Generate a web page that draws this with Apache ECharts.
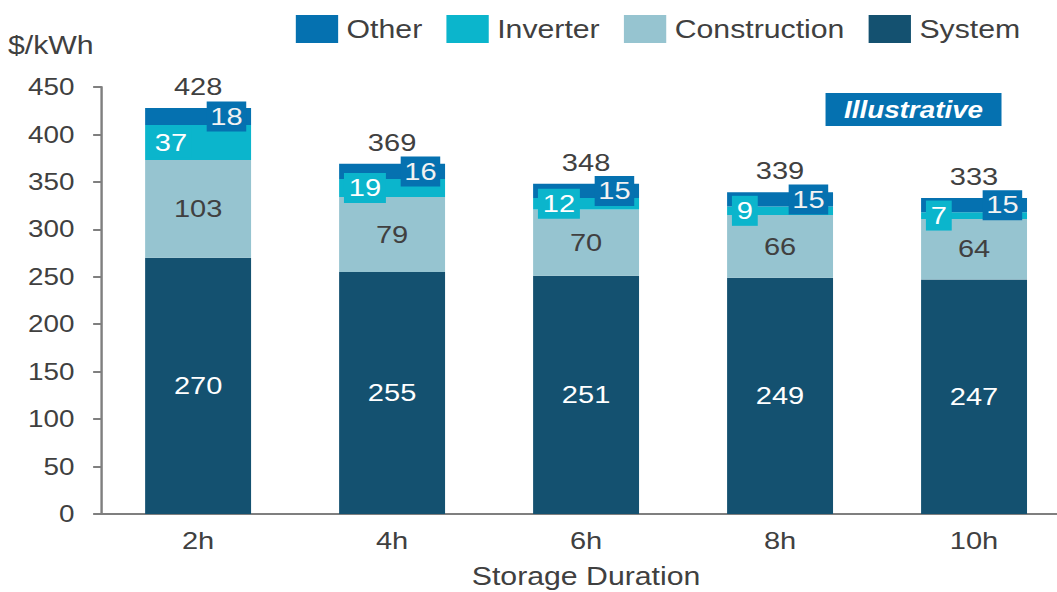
<!DOCTYPE html>
<html>
<head>
<meta charset="utf-8">
<script src="https://cdn.jsdelivr.net/npm/echarts@6/dist/echarts.min.js"></script>
<style>
  html, body { margin: 0; padding: 0; background: #fff; overflow: hidden; }
  #wrap { width: 1057px; height: 592px; overflow: hidden; position: relative; }
  /* chart is laid out narrower and widened horizontally */
  #chart { width: 874px; height: 592px; transform: scaleX(1.2094); transform-origin: 0 0; }
</style>
</head>
<body>
<div id="wrap"><div id="chart"></div></div>
<script>
// Storage cost breakdown by duration, $/kWh
const categories = ['2h', '4h', '6h', '8h', '10h'];
const systemCost = [270, 255, 251, 249, 247];
const constructionCost = [103, 79, 70, 66, 64];
const inverterCost = [37, 19, 12, 9, 7];
const otherCost = [18, 16, 15, 15, 15];
const yTicks = { min: 0, max: 450, interval: 50 };

const totals = categories.map((_, i) =>
  systemCost[i] + constructionCost[i] + inverterCost[i] + otherCost[i]);

const FONT = '"Liberation Sans", Arial, sans-serif';
const TEXT = '#404040';
const COLORS = {
  other: '#0571B0',
  inverter: '#0BB5CC',
  construction: '#96C4D0',
  system: '#145170'
};
const BAR_W = 87.6;

const chart = echarts.init(document.getElementById('chart'), null, { renderer: 'svg' });

chart.setOption({
  animation: false,
  textStyle: { fontFamily: FONT },
  legend: {
    data: ['Other', 'Inverter', 'Construction', 'System'],
    left: 244.6,
    top: 15,
    padding: 0,
    itemWidth: 35,
    itemHeight: 28,
    itemGap: 20,
    icon: 'rect',
    textStyle: { fontFamily: FONT, fontSize: 25, color: TEXT, padding: [0, 0, 0, 2] }
  },
  // plot area runs slightly past the right edge of the canvas
  grid: { left: 83.6, top: 87, width: 802, bottom: 78, containLabel: false, outerBoundsMode: 'none' },
  xAxis: {
    type: 'category',
    data: categories,
    axisLine: { lineStyle: { color: '#7f7f7f', width: 2 } },
    axisTick: { show: false },
    axisLabel: { fontFamily: FONT, fontSize: 24, color: TEXT, margin: 15 },
    name: 'Storage Duration',
    nameLocation: 'middle',
    nameGap: 50,
    nameTextStyle: { fontFamily: FONT, fontSize: 25, color: TEXT }
  },
  yAxis: {
    type: 'value',
    min: yTicks.min,
    max: yTicks.max,
    interval: yTicks.interval,
    splitLine: { show: false },
    axisLine: { show: true, lineStyle: { color: '#7f7f7f', width: 2 } },
    axisTick: { show: true, length: 6.6, lineStyle: { color: '#7f7f7f', width: 2 } },
    axisLabel: { fontFamily: FONT, fontSize: 23, color: TEXT, margin: 22 }
  },
  series: [
    {
      name: 'System', type: 'bar', stack: 'cost', barWidth: BAR_W,
      data: systemCost,
      itemStyle: { color: COLORS.system },
      label: { show: true, position: 'inside', fontFamily: FONT, fontSize: 24, color: '#ffffff' }
    },
    {
      name: 'Construction', type: 'bar', stack: 'cost', barWidth: BAR_W,
      data: constructionCost,
      itemStyle: { color: COLORS.construction },
      label: { show: true, position: 'inside', fontFamily: FONT, fontSize: 24, color: TEXT }
    },
    {
      name: 'Inverter', type: 'bar', stack: 'cost', barWidth: BAR_W,
      data: inverterCost,
      itemStyle: { color: COLORS.inverter },
      label: {
        show: true, position: 'insideLeft', distance: 4,
        fontFamily: FONT, fontSize: 24, color: '#ffffff',
        backgroundColor: COLORS.inverter, padding: [3, 4, 1, 4], lineHeight: 26
      }
    },
    {
      name: 'Other', type: 'bar', stack: 'cost', barWidth: BAR_W,
      data: otherCost,
      itemStyle: { color: COLORS.other },
      label: {
        show: true, position: 'insideRight', distance: 4,
        fontFamily: FONT, fontSize: 24, color: '#f2f2f2',
        backgroundColor: COLORS.other, padding: [3, 3, 1, 3], lineHeight: 26
      }
    },
    {
      // zero-height cap that carries the total above each stack
      name: 'Total', type: 'bar', stack: 'cost', barWidth: BAR_W,
      data: totals.map(() => 0),
      itemStyle: { color: 'transparent' },
      silent: true,
      label: {
        show: true, position: 'top', distance: 9,
        fontFamily: FONT, fontSize: 24, color: TEXT,
        formatter: p => String(totals[p.dataIndex])
      }
    }
  ],
  graphic: [
    {
      type: 'text', left: 6.6, top: 33,
      style: { text: '$/kWh', fontFamily: FONT, fontSize: 25, fill: TEXT }
    },
    {
      type: 'group', left: 682.6, top: 93,
      children: [
        { type: 'rect', shape: { x: 0, y: 0, width: 145.5, height: 33 }, style: { fill: COLORS.other } },
        {
          type: 'text', x: 72.75, y: 16.5,
          style: {
            text: 'Illustrative', fontFamily: FONT, fontSize: 23, fontWeight: 'bold',
            fontStyle: 'italic', fill: '#ffffff', align: 'center', verticalAlign: 'middle'
          }
        }
      ]
    }
  ]
});
</script>
</body>
</html>
